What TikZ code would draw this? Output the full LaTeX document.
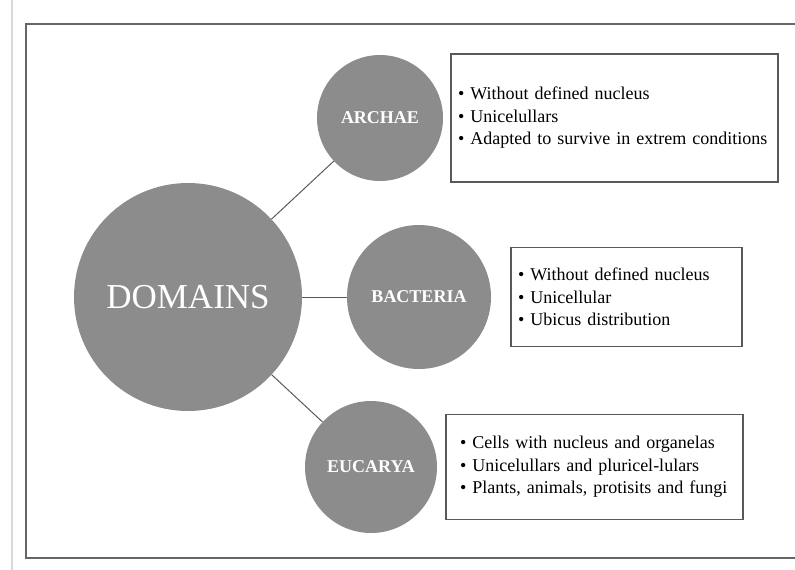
\documentclass[tikz,border=0pt]{standalone}
\usepackage{fontspec}
\setmainfont{Liberation Serif}
\usepackage{tikz}
\usetikzlibrary{positioning}
\definecolor{circlegray}{gray}{0.55}
\definecolor{linegray}{gray}{0.35}
\tikzstyle{domain_circle}=[circle, fill=circlegray, inner sep=0pt, text=white, on grid]
\tikzstyle{domain_edge}=[-, draw=linegray, line width=1pt]
\tikzstyle{info_box}=[rectangle, draw=linegray, line width=1.6pt, align=left, inner ysep=0pt, font=\fontsize{18}{22.5}\selectfont]
\newcommand{\itm}{\textbullet\hspace{6pt}}

\begin{document}
\begin{tikzpicture}[x=1pt, y=-1pt]
        \useasboundingbox (0,0) rectangle (795,570);
        % frame
        \draw[draw=black!15, line width=1.5pt] (12,0) -- (12,570);
        \draw[draw=black!60, line width=2pt] (795,24) -- (26,24) -- (26,558) -- (795,558);
        % circles
        \node [style={domain_circle}, minimum size=228pt, font=\fontsize{35}{40}\selectfont] (0) at (188, 297) {DOMAINS};
        \node [style={domain_circle}, minimum size=126pt, above right=179pt and 192pt of 0, font=\fontsize{18}{20}\selectfont\bfseries] (1) {ARCHAE};
        \node [style={domain_circle}, minimum size=144pt, right=231pt of 0, font=\fontsize{18}{20}\selectfont\bfseries] (2) {BACTERIA};
        \node [style={domain_circle}, minimum size=132pt, below right=170pt and 183pt of 0, font=\fontsize{18}{20}\selectfont\bfseries] (3) {EUCARYA};
        % boxes
        \node [style={info_box}, right=7pt of 1, minimum height=128pt, inner xsep=7pt, text width=313pt] (4) {\itm Without defined nucleus\\ \itm Unicelullars\\ \itm Adapted to survive in extrem conditions};
        \node [style={info_box}, right=19pt of 2, minimum height=99pt, inner xsep=7pt, text width=217pt] (5) {\itm Without defined nucleus\\ \itm Unicellular\\ \itm Ubicus distribution};
        \node [style={info_box}, right=8pt of 3, minimum height=105pt, inner xsep=14pt, text width=269pt] (6) {\itm Cells with nucleus and organelas\\ \itm Unicelullars and pluricel-lulars\\ \itm Plants, animals, protisits and fungi};
        \draw[style={domain_edge}]{} (0) to (1);
        \draw[style={domain_edge}]{} (0) to (2);
        \draw[style={domain_edge}]{} (0) to (3);
    \end{tikzpicture}
\end{document}
